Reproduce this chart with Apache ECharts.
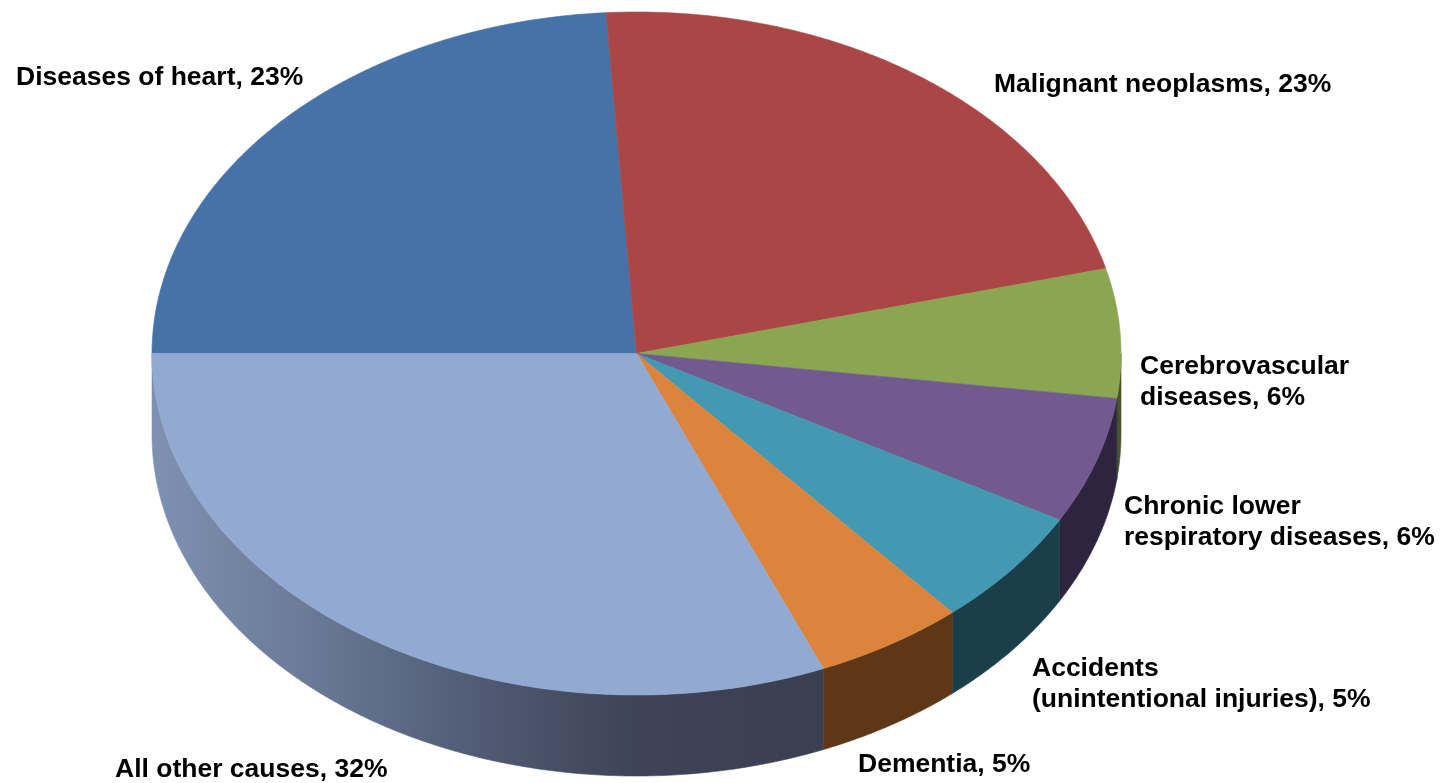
<!DOCTYPE html>
<html>
<head>
<meta charset="utf-8">
<style>html,body{margin:0;padding:0;background:#fff}#c{width:1450px;height:783px}</style>
<script src="https://cdn.jsdelivr.net/npm/echarts@6/dist/echarts.min.js"></script>
</head>
<body>
<div id="c"></div>
<script>
// Data
const categories = ['Diseases of heart','Malignant neoplasms','Cerebrovascular\ndiseases','Chronic lower\nrespiratory diseases','Accidents\n(unintentional injuries)','Dementia','All other causes'];
const statedPercents = [23,23,6,6,5,5,32];
// Slice share as drawn in the picture (percent of the pie's sweep)
const drawnShares = [24,22,6.1,6,5.6,5,31.3];
// Styles
const topColors = ['#4772a8','#aa4746','#8ba650','#725a8f','#4299b1','#dc843c','#92a9d2'];
const sideColors = ['#2c4568','#6a2b2a','#47552a','#2e2440','#1b3f4a','#5e3716',null];
const labelAnchors = [[16,78],[994,85],[1140,382],[1124,522],[1032,684],[858,765],[115,770]];
const geom = {cx:636.5, cy:353.5, rx:484.5, ry:341.5, depth:81, start:180};

const total = drawnShares.reduce((a,b)=>a+b,0);
let acc = 0;
const rows = drawnShares.map((v,i)=>{
  const a0 = geom.start + acc/total*360; acc += v;
  return [a0, geom.start + acc/total*360, i];
});
function pt(deg,dy){
  const t = deg*Math.PI/180;
  return [geom.cx+geom.rx*Math.cos(t), geom.cy+geom.ry*Math.sin(t)+(dy||0)];
}
function arc(a0,a1,dy){
  const n = Math.max(2,Math.ceil(Math.abs(a1-a0)*2)), out=[];
  for(let k=0;k<=n;k++) out.push(pt(a0+(a1-a0)*k/n,dy));
  return out;
}
const sideGradient = {type:'linear',x:152,y:0,x2:822,y2:0,global:true,colorStops:[
  {offset:0,color:'#7f91b1'},{offset:0.22,color:'#6b7b99'},{offset:0.5,color:'#4f5a72'},
  {offset:0.72,color:'#3e4357'},{offset:1,color:'#3b3f52'}]};

function renderSide(params,api){
  const i = api.value(2);
  // front-facing part of the rim: angles 0..180 (mod 360)
  let a0 = api.value(0)%360, a1 = api.value(1)%360;
  if(a1<=a0) a1+=360;
  const parts=[];
  [[a0,a1],[a0-360,a1-360]].forEach(([s,e])=>{
    const lo=Math.max(s,0), hi=Math.min(e,180);
    if(hi>lo) parts.push([lo,hi]);
  });
  const fill = sideColors[i]||sideGradient;
  return {type:'group',children:parts.map(([lo,hi])=>({
    type:'polygon',
    shape:{points:arc(lo,hi,0).concat(arc(hi,lo,geom.depth))},
    style:{fill:fill,stroke:fill,lineWidth:0.6}
  }))};
}
function renderTop(params,api){
  const i = api.value(2), c = topColors[i];
  return {type:'polygon',
    shape:{points:[[geom.cx,geom.cy]].concat(arc(api.value(0),api.value(1),0))},
    style:{fill:c,stroke:c,lineWidth:0.6}};
}
function renderLabel(params,api){
  const i = api.value(2), a = labelAnchors[i];
  return {type:'text',x:a[0],y:a[1],
    style:{text:categories[i]+', '+statedPercents[i]+'%',x:0,y:0,
      fill:'#000',font:'bold 26.5px "Liberation Sans", Arial, sans-serif',
      lineHeight:31.5,align:'left',verticalAlign:'middle'}};
}
const chart = echarts.init(document.getElementById('c'),null,{renderer:'canvas',width:1450,height:783});
chart.setOption({
  animation:false,
  backgroundColor:'#fff',
  series:[
    {type:'custom',name:'rim',coordinateSystem:'none',silent:true,data:rows,renderItem:renderSide,z:1},
    {type:'custom',name:'slices',coordinateSystem:'none',silent:true,data:rows,renderItem:renderTop,z:2},
    {type:'custom',name:'labels',coordinateSystem:'none',silent:true,data:rows,renderItem:renderLabel,z:3}
  ]
});
</script>
</body>
</html>
